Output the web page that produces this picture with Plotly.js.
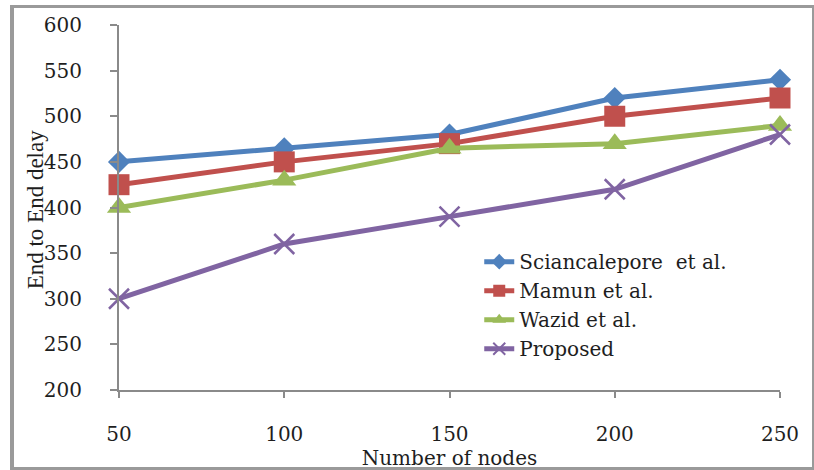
<!DOCTYPE html>
<html>
<head>
<meta charset="utf-8">
<script src="https://cdn.plot.ly/plotly-3.0.1.min.js"></script>
<style>
  html, body { margin: 0; padding: 0; background: #fff; }
  #wrap { position: relative; width: 814px; height: 470px; }
  #chart { position: absolute; left: 0; top: 0; width: 814px; height: 470px; }
  #frame { position: absolute; left: 10px; top: 5px; width: 798px; height: 459px;
           border: 3px solid #9a9a9a; border-left-width: 4px; pointer-events: none; }
</style>
</head>
<body>
<div id="wrap">
  <div id="chart"></div>
  <div id="frame"></div>
</div>
<script>
// Number of nodes on the x axis
const nodes = [50, 100, 150, 200, 250];
// End to end delay for each scheme
const sciancalepore = [450, 465, 480, 520, 540];
const mamun = [425, 450, 470, 500, 520];
const wazid = [400, 430, 465, 470, 490];
const proposed = [300, 360, 390, 420, 480];
const yTicks = [200, 250, 300, 350, 400, 450, 500, 550, 600];

const seriesNames = ['Sciancalepore  et al.', 'Mamun et al.', 'Wazid et al.', 'Proposed'];
const seriesData = [sciancalepore, mamun, wazid, proposed];
const colors = ['#4F81BD', '#C0504D', '#9BBB59', '#8064A2'];
const symbols = ['diamond', 'square', 'triangle-up', 'x-thin'];
const sizes = [17, 21, 21, 20];

const SERIF = '"DejaVu Serif", "Liberation Serif", serif';
const TIMES = '"Liberation Serif", "Times New Roman", serif';
const INK = '#1e1e1e';

const traces = seriesData.map((ys, i) => ({
  x: nodes,
  y: ys,
  name: seriesNames[i],
  type: 'scatter',
  mode: 'lines+markers',
  cliponaxis: false,
  line: { color: colors[i], width: 5 },
  marker: {
    color: colors[i],
    symbol: symbols[i],
    size: sizes[i],
    line: { color: colors[i], width: i === 3 ? 2.5 : 0 }
  }
}));

const layout = {
  width: 814,
  height: 470,
  margin: { l: 119, r: 34, t: 25, b: 80 },
  paper_bgcolor: '#ffffff',
  plot_bgcolor: '#ffffff',
  font: { family: SERIF, size: 20, color: INK },
  showlegend: true,
  legend: {
    x: 0.545, y: 0.405, xanchor: 'left', yanchor: 'top',
    bgcolor: 'rgba(0,0,0,0)',
    font: { family: SERIF, size: 20, color: INK },
    tracegroupgap: 0,
    itemsizing: 'constant',
    itemwidth: 30
  },
  xaxis: {
    range: [50, 250],
    tickvals: nodes,
    ticktext: nodes.map(String),
    showgrid: false,
    zeroline: false,
    showline: true,
    linecolor: '#8a8a8a',
    linewidth: 2,
    ticks: 'outside',
    ticklen: 6,
    tickwidth: 2,
    tickcolor: '#8a8a8a',
    ticklabelstandoff: 19,
    tickfont: { family: SERIF, size: 20, color: INK },
    title: { text: 'Number of nodes', font: { family: SERIF, size: 20, color: INK }, standoff: 2 }
  },
  yaxis: {
    range: [200, 600],
    tickvals: yTicks,
    showgrid: false,
    zeroline: false,
    showline: true,
    linecolor: '#8a8a8a',
    linewidth: 2,
    ticks: 'outside',
    ticklen: 7,
    tickwidth: 2,
    tickcolor: '#8a8a8a',
    ticklabelstandoff: 24,
    tickfont: { family: SERIF, size: 20, color: INK }
  },
  annotations: [{
    text: 'End to End delay',
    textangle: -90,
    xref: 'paper', yref: 'paper',
    x: 0, y: 0.495,
    xanchor: 'center', yanchor: 'middle',
    xshift: -84,
    showarrow: false,
    font: { family: TIMES, size: 23, color: INK }
  }]
};

Plotly.newPlot('chart', traces, layout, { displayModeBar: false, staticPlot: true });
</script>
</body>
</html>
